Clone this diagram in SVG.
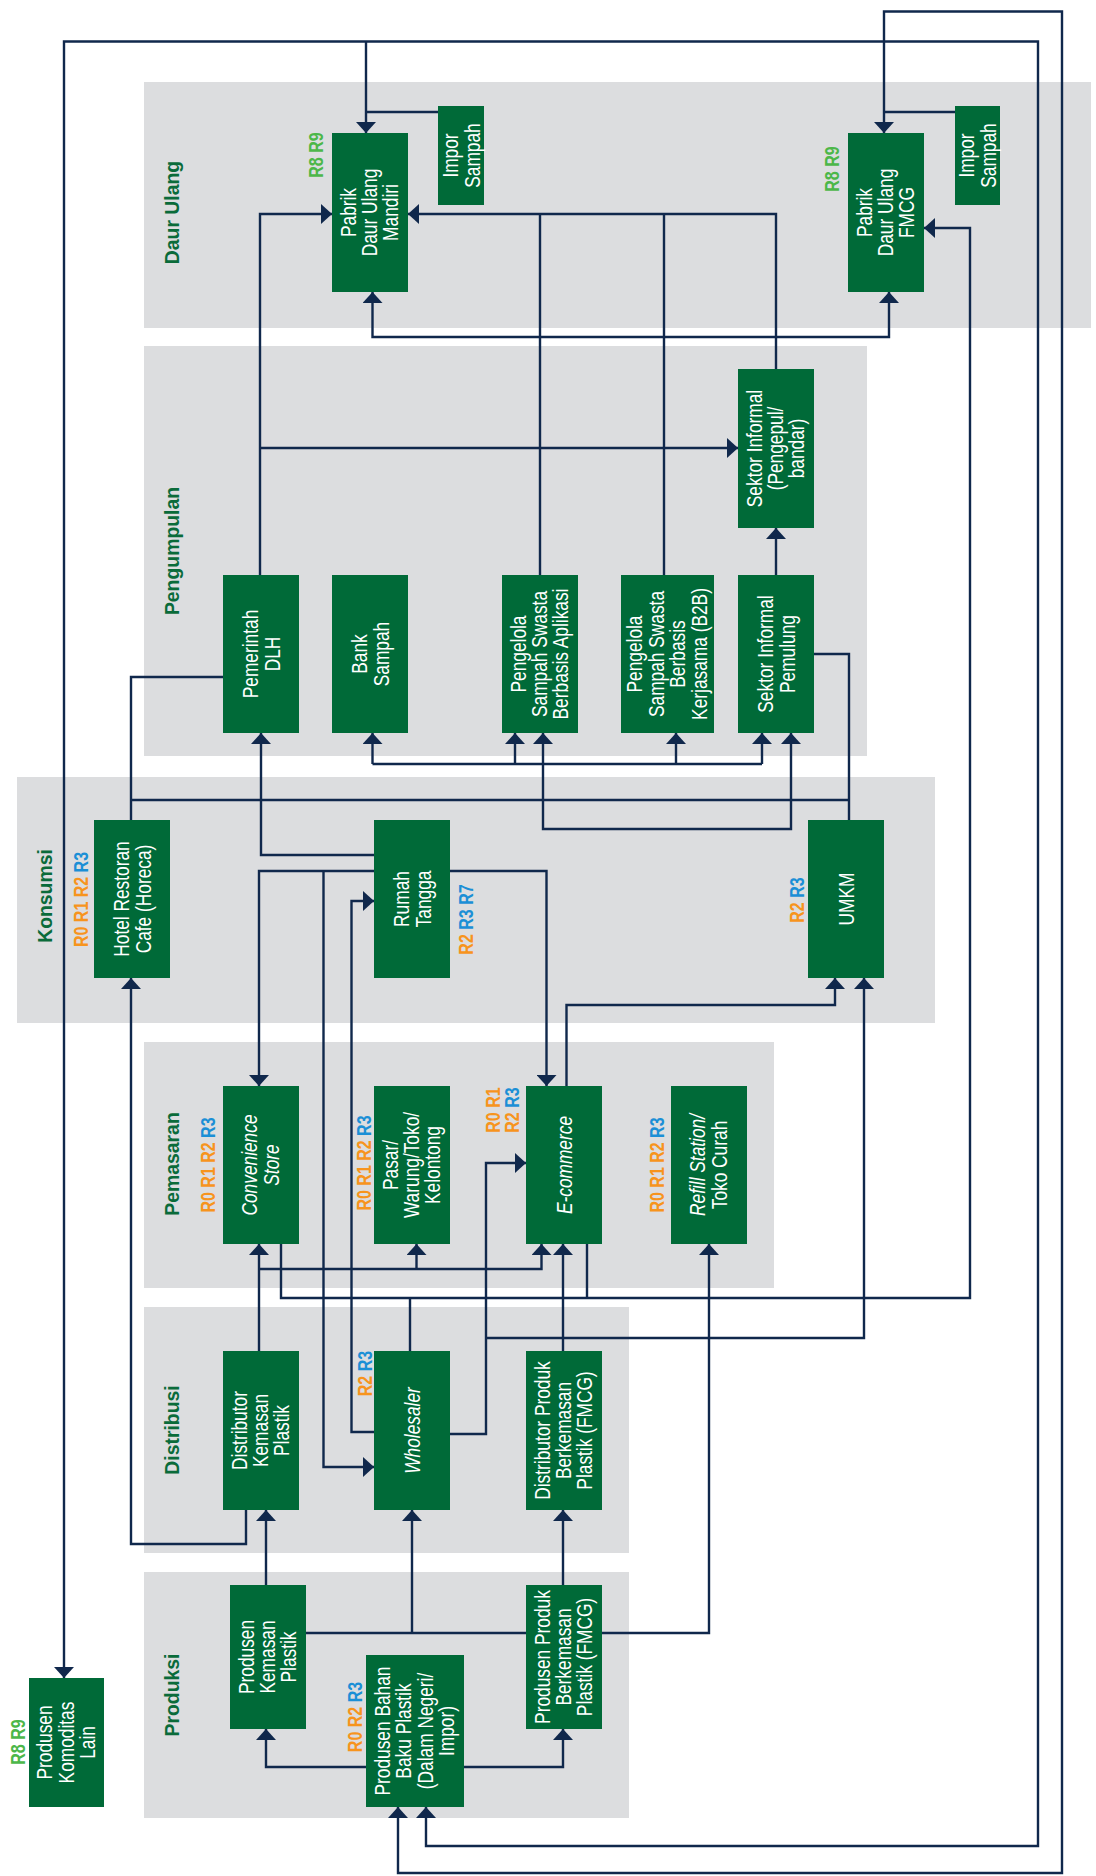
<svg xmlns="http://www.w3.org/2000/svg" width="1096" height="1876" viewBox="0 0 1096 1876">
<style>
.band{fill:#dcdddf}
.box{fill:#006a38}
.bt{font-family:"Liberation Sans",Arial,sans-serif;font-size:22.5px;fill:#fff;text-anchor:middle}
.it{font-style:italic}
.bl{font-family:"Liberation Sans",Arial,sans-serif;font-weight:bold;font-size:19.4px;fill:#0a6b3a;text-anchor:middle}
.rl{font-family:"Liberation Sans",Arial,sans-serif;font-weight:bold;font-size:20px;text-anchor:middle}
.o{fill:#f7941d}.b{fill:#1b8fd6}.g{fill:#4cb749}
.c{fill:none;stroke:#10284c;stroke-width:2.4}
.a{marker-end:url(#ah)}
.s{marker-start:url(#ah)}
</style>
<defs>
<marker id="ah" markerUnits="userSpaceOnUse" markerWidth="11" markerHeight="20" viewBox="0 0 11 20" refX="11" refY="10" orient="auto-start-reverse"><path d="M0,0 L11,10 L0,20 z" fill="#10284c"/></marker>
</defs>
<rect width="1096" height="1876" fill="#fff"/>
<g id="bands">
<rect class="band" x="144" y="82" width="947" height="246"/>
<rect class="band" x="144" y="346" width="723" height="410"/>
<rect class="band" x="17" y="777" width="918" height="246"/>
<rect class="band" x="144" y="1042" width="630" height="246"/>
<rect class="band" x="144" y="1307" width="485" height="246"/>
<rect class="band" x="144" y="1572" width="485" height="246"/>
<text class="bl" transform="translate(178.5,212.5) rotate(-90)">Daur Ulang</text>
<text class="bl" transform="translate(178.5,551) rotate(-90)">Pengumpulan</text>
<text class="bl" transform="translate(52,896) rotate(-90)">Konsumsi</text>
<text class="bl" transform="translate(178.5,1164) rotate(-90)">Pemasaran</text>
<text class="bl" transform="translate(178.5,1430) rotate(-90)">Distribusi</text>
<text class="bl" transform="translate(178.5,1695) rotate(-90)">Produksi</text>
</g>
<g id="connectors">
<path class="c a s" d="M884,133 V11.5 H1062 V1873 H398 V1807"/>
<path class="c" d="M955,112 H884"/>
<path class="c a s" d="M64,1678 V41.5 H1038 V1846 H426 V1807"/>
<path class="c a" d="M366,41.5 V133"/>
<path class="c" d="M438,112 H366"/>
<path class="c a" d="M260,575 V214 H332"/>
<path class="c a" d="M776,369 V214 H408"/>
<path class="c" d="M540,575 V214"/>
<path class="c" d="M664,575 V214"/>
<path class="c a" d="M260,448 H738"/>
<path class="c a" d="M776,575 V528"/>
<path class="c a s" d="M372.5,292 V337 H889 V292"/>
<path class="c a" d="M281,1244 V1298 H970 V228 H924"/>
<path class="c" d="M587,1244 V1298"/>
<path class="c" d="M410,1351 V1298"/>
<path class="c" d="M223,677 H131 V820"/>
<path class="c" d="M131,800 H849"/>
<path class="c" d="M814,654 H849 V820"/>
<path class="c a" d="M374,855 H261 V733"/>
<path class="c" d="M372.5,764 H762"/>
<path class="c a" d="M372.5,764 V733"/>
<path class="c a" d="M515,764 V733"/>
<path class="c a" d="M676,764 V733"/>
<path class="c a" d="M762,764 V733"/>
<path class="c a s" d="M543,733 V829 H791 V733"/>
<path class="c a" d="M374,871 H259 V1086"/>
<path class="c a" d="M323.5,871 V1467 H374"/>
<path class="c a" d="M450,871 H546.5 V1086"/>
<path class="c a" d="M374,1432 H351.5 V901 H374"/>
<path class="c a" d="M566.5,1086 V1005 H835 V978"/>
<path class="c a" d="M450,1434 H486 V1163 H526"/>
<path class="c a" d="M486,1338 H864 V978"/>
<path class="c a" d="M259,1351 V1244"/>
<path class="c a" d="M259,1269 H541.5 V1244"/>
<path class="c a" d="M416.5,1269 V1244"/>
<path class="c a" d="M563,1351 V1244"/>
<path class="c a" d="M246,1510 V1544 H131 V978"/>
<path class="c a" d="M266,1585 V1510"/>
<path class="c" d="M306,1633 H526"/>
<path class="c a" d="M412,1633 V1510"/>
<path class="c a" d="M602,1633 H709 V1244"/>
<path class="c a" d="M563,1585 V1510"/>
<path class="c a" d="M366,1767 H266 V1729"/>
<path class="c a" d="M464,1767 H563 V1729"/>
</g>
<g id="n-mandiri"><rect class="box" x="332" y="133" width="76" height="159"/>
<text class="bt" transform="translate(370,212.5) rotate(-90) scale(0.77,1)"><tspan x="0" y="-14.5">Pabrik</tspan><tspan x="0" y="7">Daur Ulang</tspan><tspan x="0" y="28.5">Mandiri</tspan></text>
<text class="rl g" transform="translate(323,155) rotate(-90) scale(0.8,1)">R8 R9</text></g>
<g id="n-impor1"><rect class="box" x="438" y="106" width="46" height="99"/>
<text class="bt" transform="translate(461,155.5) rotate(-90) scale(0.77,1)"><tspan x="0" y="-3.5">Impor</tspan><tspan x="0" y="18.5">Sampah</tspan></text></g>
<g id="n-fmcgr"><rect class="box" x="848" y="133" width="76" height="159"/>
<text class="bt" transform="translate(886,212.5) rotate(-90) scale(0.77,1)"><tspan x="0" y="-14.5">Pabrik</tspan><tspan x="0" y="7">Daur Ulang</tspan><tspan x="0" y="28.5">FMCG</tspan></text>
<text class="rl g" transform="translate(839,169) rotate(-90) scale(0.8,1)">R8 R9</text></g>
<g id="n-impor2"><rect class="box" x="955" y="106" width="45" height="99"/>
<text class="bt" transform="translate(977.5,155.5) rotate(-90) scale(0.77,1)"><tspan x="0" y="-3.5">Impor</tspan><tspan x="0" y="18.5">Sampah</tspan></text></g>
<g id="n-dlh"><rect class="box" x="223" y="575" width="76" height="158"/>
<text class="bt" transform="translate(261,654) rotate(-90) scale(0.77,1)"><tspan x="0" y="-3.5">Pemerintah</tspan><tspan x="0" y="18.5">DLH</tspan></text></g>
<g id="n-bank"><rect class="box" x="332" y="575" width="76" height="158"/>
<text class="bt" transform="translate(370,654) rotate(-90) scale(0.77,1)"><tspan x="0" y="-3.5">Bank</tspan><tspan x="0" y="18.5">Sampah</tspan></text></g>
<g id="n-aplikasi"><rect class="box" x="502" y="575" width="76" height="158"/>
<text class="bt" transform="translate(540,654) rotate(-90) scale(0.77,1)"><tspan x="0" y="-14.5">Pengelola</tspan><tspan x="0" y="7">Sampah Swasta</tspan><tspan x="0" y="28.5">Berbasis Aplikasi</tspan></text></g>
<g id="n-b2b"><rect class="box" x="621" y="575" width="93" height="158"/>
<text class="bt" transform="translate(667.5,654) rotate(-90) scale(0.77,1)"><tspan x="0" y="-25.25">Pengelola</tspan><tspan x="0" y="-3.75">Sampah Swasta</tspan><tspan x="0" y="17.75">Berbasis</tspan><tspan x="0" y="39.25">Kerjasama (B2B)</tspan></text></g>
<g id="n-pemulung"><rect class="box" x="738" y="575" width="76" height="158"/>
<text class="bt" transform="translate(776,654) rotate(-90) scale(0.77,1)"><tspan x="0" y="-3.5">Sektor Informal</tspan><tspan x="0" y="18.5">Pemulung</tspan></text></g>
<g id="n-pengepul"><rect class="box" x="738" y="369" width="76" height="159"/>
<text class="bt" transform="translate(776,448.5) rotate(-90) scale(0.77,1)"><tspan x="0" y="-14.5">Sektor Informal</tspan><tspan x="0" y="7">(Pengepul/</tspan><tspan x="0" y="28.5">bandar)</tspan></text></g>
<g id="n-horeca"><rect class="box" x="94" y="820" width="76" height="158"/>
<text class="bt" transform="translate(132,899) rotate(-90) scale(0.77,1)"><tspan x="0" y="-3.5">Hotel Restoran</tspan><tspan x="0" y="18.5">Cafe (Horeca)</tspan></text>
<text class="rl" transform="translate(88,899.5) rotate(-90) scale(0.8,1)"><tspan class="o">R0 R1 R2 </tspan><tspan class="b">R3</tspan></text></g>
<g id="n-rt"><rect class="box" x="374" y="820" width="76" height="158"/>
<text class="bt" transform="translate(412,899) rotate(-90) scale(0.77,1)"><tspan x="0" y="-3.5">Rumah</tspan><tspan x="0" y="18.5">Tangga</tspan></text>
<text class="rl" transform="translate(473,919.5) rotate(-90) scale(0.8,1)"><tspan class="o">R2 </tspan><tspan class="b">R3 R7</tspan></text></g>
<g id="n-umkm"><rect class="box" x="808" y="820" width="76" height="158"/>
<text class="bt" transform="translate(846,899) rotate(-90) scale(0.77,1)"><tspan x="0" y="7.5">UMKM</tspan></text>
<text class="rl" transform="translate(803.5,900) rotate(-90) scale(0.8,1)"><tspan class="o">R2 </tspan><tspan class="b">R3</tspan></text></g>
<g id="n-conv"><rect class="box" x="223" y="1086" width="76" height="158"/>
<text class="bt it" transform="translate(261,1165) rotate(-90) scale(0.77,1)"><tspan x="0" y="-4">Convenience</tspan><tspan x="0" y="18">Store</tspan></text>
<text class="rl" transform="translate(215,1165) rotate(-90) scale(0.8,1)"><tspan class="o">R0 R1 R2 </tspan><tspan class="b">R3</tspan></text></g>
<g id="n-pasar"><rect class="box" x="374" y="1086" width="76" height="158"/>
<text class="bt" transform="translate(412,1165) rotate(-90) scale(0.77,1)"><tspan x="0" y="-14.5">Pasar/</tspan><tspan x="0" y="7">Warung/Toko/</tspan><tspan x="0" y="28.5">Kelontong</tspan></text>
<text class="rl" transform="translate(371,1163) rotate(-90) scale(0.8,1)"><tspan class="o">R0 R1 R2 </tspan><tspan class="b">R3</tspan></text></g>
<g id="n-ecom"><rect class="box" x="526" y="1086" width="76" height="158"/>
<text class="bt it" transform="translate(564,1165) rotate(-90) scale(0.77,1)"><tspan x="0" y="7.5">E-commerce</tspan></text>
<text class="rl o" transform="translate(500,1110) rotate(-90) scale(0.8,1)">R0 R1</text>
<text class="rl" transform="translate(519,1110) rotate(-90) scale(0.8,1)"><tspan class="o">R2 </tspan><tspan class="b">R3</tspan></text></g>
<g id="n-refill"><rect class="box" x="671" y="1086" width="76" height="158"/>
<text class="bt" transform="translate(709,1165) rotate(-90) scale(0.77,1)"><tspan x="0" y="-4" class="it">Refill Station/</tspan><tspan x="0" y="18">Toko Curah</tspan></text>
<text class="rl" transform="translate(664,1165) rotate(-90) scale(0.8,1)"><tspan class="o">R0 R1 R2 </tspan><tspan class="b">R3</tspan></text></g>
<g id="n-distkem"><rect class="box" x="223" y="1351" width="76" height="159"/>
<text class="bt" transform="translate(261,1430.5) rotate(-90) scale(0.77,1)"><tspan x="0" y="-14.5">Distributor</tspan><tspan x="0" y="7">Kemasan</tspan><tspan x="0" y="28.5">Plastik</tspan></text></g>
<g id="n-wholesaler"><rect class="box" x="374" y="1351" width="76" height="159"/>
<text class="bt it" transform="translate(412,1430.5) rotate(-90) scale(0.77,1)"><tspan x="0" y="7.5">Wholesaler</tspan></text>
<text class="rl" transform="translate(372,1373.5) rotate(-90) scale(0.8,1)"><tspan class="o">R2 </tspan><tspan class="b">R3</tspan></text></g>
<g id="n-distfmcg"><rect class="box" x="526" y="1351" width="76" height="159"/>
<text class="bt" transform="translate(564,1430.5) rotate(-90) scale(0.77,1)"><tspan x="0" y="-14.5">Distributor Produk</tspan><tspan x="0" y="7">Berkemasan</tspan><tspan x="0" y="28.5">Plastik (FMCG)</tspan></text></g>
<g id="n-prodkem"><rect class="box" x="230" y="1585" width="76" height="144"/>
<text class="bt" transform="translate(268,1657) rotate(-90) scale(0.77,1)"><tspan x="0" y="-14.5">Produsen</tspan><tspan x="0" y="7">Kemasan</tspan><tspan x="0" y="28.5">Plastik</tspan></text></g>
<g id="n-prodfmcg"><rect class="box" x="526" y="1585" width="76" height="144"/>
<text class="bt" transform="translate(564,1657) rotate(-90) scale(0.77,1)"><tspan x="0" y="-14.5">Produsen Produk</tspan><tspan x="0" y="7">Berkemasan</tspan><tspan x="0" y="28.5">Plastik (FMCG)</tspan></text></g>
<g id="n-bahanbaku"><rect class="box" x="366" y="1655" width="98" height="152"/>
<text class="bt" transform="translate(415,1731) rotate(-90) scale(0.77,1)"><tspan x="0" y="-25.25">Produsen Bahan</tspan><tspan x="0" y="-3.75">Baku Plastik</tspan><tspan x="0" y="17.75">(Dalam Negeri/</tspan><tspan x="0" y="39.25">Impor)</tspan></text>
<text class="rl" transform="translate(362,1717) rotate(-90) scale(0.8,1)"><tspan class="o">R0 R2 </tspan><tspan class="b">R3</tspan></text></g>
<g id="n-komoditas"><rect class="box" x="29" y="1678" width="75" height="129"/>
<text class="bt" transform="translate(66.5,1742.5) rotate(-90) scale(0.77,1)"><tspan x="0" y="-14.5">Produsen</tspan><tspan x="0" y="7">Komoditas</tspan><tspan x="0" y="28.5">Lain</tspan></text>
<text class="rl g" transform="translate(24.5,1742) rotate(-90) scale(0.8,1)">R8 R9</text></g>
</svg>
